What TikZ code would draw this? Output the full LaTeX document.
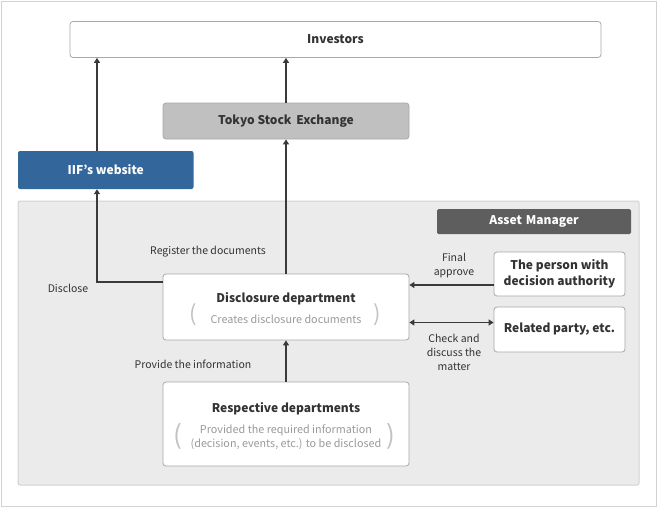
\documentclass[tikz,border=0pt]{standalone}
\usepackage{fontspec}
\setmainfont{Noto Sans CJK JP}
\usetikzlibrary{arrows.meta}
\definecolor{txt}{HTML}{333333}
\definecolor{subt}{HTML}{9A9A9A}
\definecolor{boxline}{HTML}{A8A8A8}
\definecolor{panelfill}{HTML}{EBEBEB}
\definecolor{panelline}{HTML}{D2D2D2}
\definecolor{iifblue}{HTML}{33669A}
\definecolor{tsegray}{HTML}{C0C0C0}
\definecolor{amgray}{HTML}{5E5E5E}
\definecolor{arr}{HTML}{3A3A3A}
\tikzset{
  wbox/.style={draw=boxline, fill=white, rounded corners=3pt, line width=0.8pt, inner sep=0pt, text=txt},
  ttl/.style={font=\bfseries\fontsize{12}{15}\selectfont, text=txt},
  lbl/.style={font=\fontsize{10.5}{14}\selectfont, text=txt, inner sep=0pt, align=center},
  subl/.style={font=\fontsize{10.8}{14}\selectfont, text=subt, inner sep=0pt, align=center},
  paren/.style={font=\fontsize{22}{24}\selectfont, text=subt!60, inner sep=0pt},
  conn/.style={draw=arr, line width=1.8pt},
  tip/.style={-{Triangle[width=6pt,length=5pt]}},
}
\begin{document}
\begin{tikzpicture}[x=1pt,y=-1pt]
\useasboundingbox (0,0) rectangle (657,507);
\draw[draw=panelline, line width=1pt, fill=white] (1,1) rectangle (656,506);
% panel
\draw[draw=panelline, line width=1pt, fill=panelfill, rounded corners=2pt] (18,201) rectangle (639,485);
\node[fill=amgray, rounded corners=1.5pt, minimum width=194pt, minimum height=25pt, inner sep=0pt,
      text=white, font=\bfseries\fontsize{12}{14}\selectfont] (am) at (534,221.5) {Asset\,\,Manager};
% boxes
\node[wbox, minimum width=531pt, minimum height=36pt, ttl] (inv) at (335.5,39.5) {Investors};
\node[wbox, fill=tsegray, draw=boxline, minimum width=246pt, minimum height=36pt, ttl] (tse) at (286,121) {Tokyo Stock\, Exchange};
\node[fill=iifblue, rounded corners=2pt, minimum width=175.5pt, minimum height=38pt, inner sep=0pt,
      text=white, font=\bfseries\fontsize{12}{15}\selectfont] (iif) at (105.75,170) {IIF’s website};
\node[wbox, minimum width=246pt, minimum height=66pt] (disc) at (286,307) {};
\node[ttl, inner sep=0pt] (disct) at (286,299) {Disclosure department};
\node[subl] (discs) at (286,319) {Creates disclosure documents};
\node[paren] (dpl) at (193,315) {(};
\node[paren] (dpr) at (377,315) {)};
\node[wbox, minimum width=131pt, minimum height=44pt, ttl, align=center, font=\bfseries\fontsize{12}{16}\selectfont] (pers) at (559.5,274) {The person with\\decision authority};
\node[wbox, minimum width=131pt, minimum height=45pt, ttl, font=\bfseries\fontsize{12}{16}\selectfont] (rel) at (559.5,329.5) {Related party, etc.};
\node[wbox, minimum width=246pt, minimum height=84pt] (resp) at (286,424) {};
\node[ttl, inner sep=0pt] (respt) at (286,409) {Respective departments};
\node[subl] (resps) at (286,437) {Provided the required information\\(decision, events, etc.) to be disclosed};
\node[paren, font=\fontsize{26}{28}\selectfont] (rpl) at (178,436) {(};
\node[paren, font=\fontsize{26}{28}\selectfont] (rpr) at (391,436) {)};
% labels
\node[lbl] (lreg) at (208,252) {Register the documents};
\node[lbl] (ldis) at (68,288) {Disclose};
\node[lbl] (lfin) at (454,266) {Final\\approve};
\node[lbl] (lchk) at (454,352) {Check and\\discuss the\\matter};
\node[lbl] (lpro) at (193,364) {Provide the information};
% connectors
\coordinate (c1) at (97,282);
\coordinate (c2) at (0,285);
\coordinate (c3) at (0,322.5);
\draw[conn] (disc.west |- c1) -- (c1) [tip] -- (c1 |- iif.south);
\draw[conn, tip] (iif.north -| c1) -- (c1 |- inv.south);
\draw[conn, tip] (tse.north) -- (tse.north |- inv.south);
\draw[conn, tip] (disc.north) -- (tse.south);
\draw[conn, tip] (resp.north) -- (disc.south);
\draw[conn, tip] (pers.west |- c2) -- (disc.east |- c2);
\draw[conn, {Triangle[width=6pt,length=5pt]}-{Triangle[width=6pt,length=5pt]}] (disc.east |- c3) -- (rel.west |- c3);
\end{tikzpicture}
\end{document}
